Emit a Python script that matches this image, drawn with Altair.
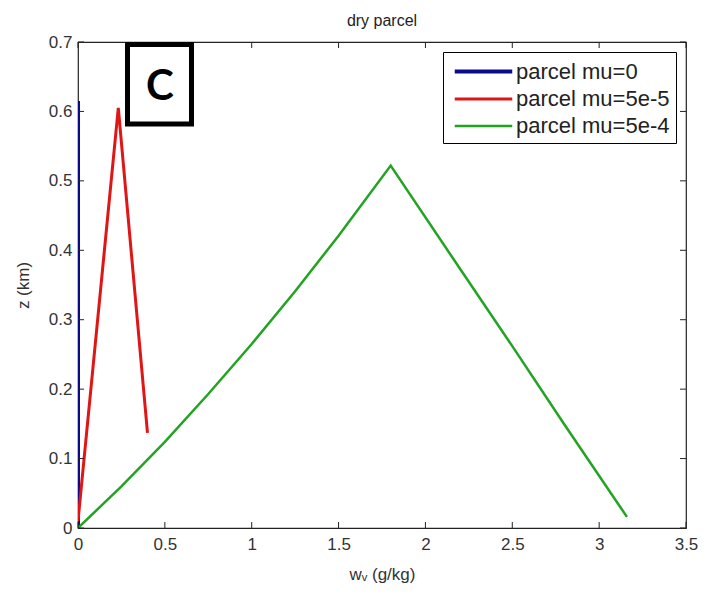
import altair as alt
import pandas as pd

# ---- data ----
series_names = ["parcel mu=0", "parcel mu=5e-5", "parcel mu=5e-4"]
series_colors = ["#0a0a8c", "#e01515", "#22a322"]
series_widths = [4, 3, 2.5]

blue_x = [0.0, 0.0]
blue_z = [0.0, 0.615]

red_x = [0.0, 0.232, 0.40]
red_z = [0.01, 0.605, 0.137]

green_x = [0.0, 0.25, 0.5, 0.75, 1.0, 1.25, 1.5, 1.8, 2.2, 2.5, 2.8, 3.16]
green_z = [0.0, 0.06, 0.124, 0.193, 0.265, 0.341, 0.421, 0.522, 0.373, 0.262, 0.149, 0.016]

x_ticks = [0, 0.5, 1, 1.5, 2, 2.5, 3, 3.5]
z_ticks = [0, 0.1, 0.2, 0.3, 0.4, 0.5, 0.6, 0.7]

panel_label = ["C"]

# ---- build table ----
rows = []
for name, xs, zs in zip(series_names, [blue_x, red_x, green_x], [blue_z, red_z, green_z]):
    for i, (xv, zv) in enumerate(zip(xs, zs)):
        rows.append({"series": name, "x": xv, "z": zv, "i": i})
df = pd.DataFrame(rows)

W, H = 608, 486
FONT = "Liberation Sans"

xscale = alt.Scale(domain=[0, 3.5], nice=False, zero=False)
zscale = alt.Scale(domain=[0, 0.7], nice=False, zero=False)

legend_kw = dict(title=None, orient="none", legendX=365, legendY=10,
                 symbolType="M-2.5,0H2.5", symbolSize=529, symbolOffset=21,
                 labelFontSize=22, labelFont=FONT, labelColor="#222", labelLimit=400,
                 strokeColor="#000", fillColor="#fff", padding=6,
                 rowPadding=3, labelOffset=19)

lines = alt.Chart(df).mark_line(clip=True).encode(
    x=alt.X("x:Q", scale=xscale,
            axis=alt.Axis(values=x_ticks, format="~g", title="wᵥ (g/kg)",
                          tickSize=0, domain=False, grid=False, labelFlush=False,
                          labelPadding=8, titlePadding=14)),
    y=alt.Y("z:Q", scale=zscale,
            axis=alt.Axis(values=z_ticks, format="~g", title="z (km)",
                          tickSize=0, domain=False, grid=False, labelFlush=False,
                          labelPadding=6, titlePadding=16)),
    color=alt.Color("series:N",
                    scale=alt.Scale(domain=series_names, range=series_colors),
                    legend=alt.Legend(**legend_kw)),
    strokeWidth=alt.StrokeWidth("series:N",
                                scale=alt.Scale(type="ordinal", domain=series_names, range=series_widths),
                                legend=alt.Legend(**legend_kw)),
    order="i:Q",
)

xt = pd.DataFrame({"x": x_ticks})
zt = pd.DataFrame({"z": z_ticks})
TICK = 6
tick_bottom = alt.Chart(xt).mark_rule(color="#222", strokeWidth=1).encode(
    x=alt.X("x:Q", scale=xscale), y=alt.value(H), y2=alt.value(H - TICK))
tick_top = alt.Chart(xt).mark_rule(color="#222", strokeWidth=1).encode(
    x=alt.X("x:Q", scale=xscale), y=alt.value(0), y2=alt.value(TICK))
tick_left = alt.Chart(zt).mark_rule(color="#222", strokeWidth=1).encode(
    y=alt.Y("z:Q", scale=zscale), x=alt.value(0), x2=alt.value(TICK))
tick_right = alt.Chart(zt).mark_rule(color="#222", strokeWidth=1).encode(
    y=alt.Y("z:Q", scale=zscale), x=alt.value(W), x2=alt.value(W - TICK))

lab = pd.DataFrame({"label": panel_label})
box = alt.Chart(lab).mark_rect(fill="#fff", stroke="#000", strokeWidth=5).encode(
    x=alt.value(49.5), x2=alt.value(113.5), y=alt.value(2.5), y2=alt.value(82))
ctext = alt.Chart(lab).mark_text(font="Lato", fontWeight="bold", fontSize=42,
                                 color="#000", align="center", baseline="middle").encode(
    x=alt.value(82), y=alt.value(45), text="label:N")

chart = alt.layer(lines, tick_bottom, tick_top, tick_left, tick_right, box, ctext).properties(
    width=W, height=H,
    background="#ffffff",
    title=alt.TitleParams("dry parcel", fontSize=16, font=FONT, fontWeight="normal",
                          color="#222", anchor="middle", offset=4),
    autosize=alt.AutoSizeParams(type="none"),
    padding={"left": 70, "top": 34, "right": 26, "bottom": 62},
).configure_view(stroke="#222", strokeWidth=1.2).configure_axis(
    labelFont=FONT, labelFontSize=17, labelColor="#333",
    titleFont=FONT, titleFontSize=17, titleColor="#333", titleFontWeight="normal",
)

chart.save("out.html", embed_options={"renderer": "svg", "actions": False})
